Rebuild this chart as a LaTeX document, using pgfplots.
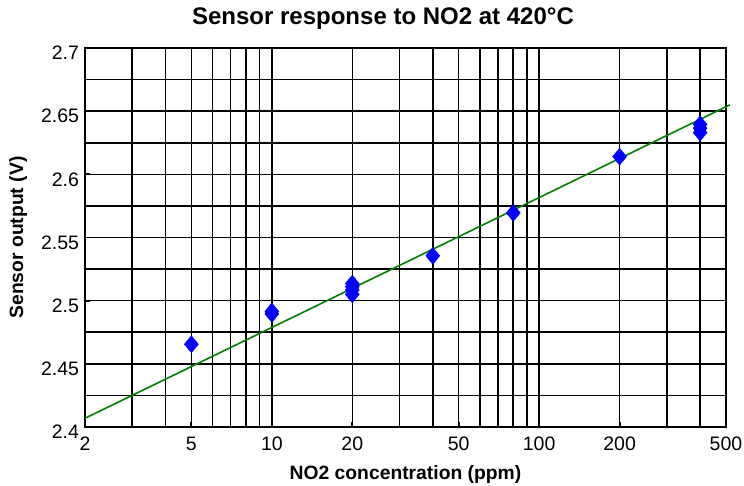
\documentclass[border=0pt]{standalone}
\usepackage{pgfplots}
\pgfplotsset{compat=1.18}
\usepackage{fontspec}
\setmainfont{Liberation Sans}
\begin{document}
\begin{tikzpicture}[x=1pt,y=1pt]
\useasboundingbox (0,0) rectangle (744,486);
\node[anchor=base,font=\fontsize{24}{28}\selectfont\bfseries] at (383,461) {Sensor response to NO2 at 420°C};
\begin{axis}[
  at={(85pt,59pt)}, anchor=south west,
  scale only axis, width=641pt, height=379pt,
  xmode=log, log basis x=10,
  xmin=2, xmax=500, ymin=2.4, ymax=2.7,
  xtick={2,5,10,20,50,100,200,500},
  xticklabels={2,5,10,20,50,100,200,500},
  minor xtick={3,4,6,7,8,9,30,40,60,70,80,90,300,400},
  ytick={2.4,2.45,2.5,2.55,2.6,2.65,2.7},
  yticklabels={2.4,2.45,2.5,2.55,2.6,2.65,2.7},
  minor ytick={2.425,2.475,2.525,2.575,2.625,2.675},
  grid=both,
  grid style={black, line width=1.6pt},
  major grid style={black, line width=1.6pt},
  minor grid style={black, line width=1.6pt},
  axis line style={black, line width=1.8pt},
  tick style={black, line width=1.8pt},
  major tick length=5pt, minor tick length=0pt,
  tick align=inside,
  xtick pos=bottom, ytick pos=left,
  ticklabel style={font=\fontsize{19.5}{23}\selectfont},
  xticklabel style={yshift=-6.5pt},
  yticklabel style={xshift=-2.5pt, yshift=-5pt},
  xlabel={NO2 concentration (ppm)},
  ylabel={Sensor output (V)},
  label style={font=\fontsize{19.3}{23}\selectfont\bfseries},
  xlabel style={at={(axis description cs:0.5,-0.1398)}, anchor=base},
  ylabel style={at={(axis description cs:-0.1045,0.5)}, anchor=center},
  clip=false,
]
\addplot[color={rgb,255:red,0;green,128;blue,0}, line width=1.6pt, no marks] coordinates {(2,2.4069) (517,2.6550)};
\addplot[only marks, mark=diamond*, mark size=8.5pt, mark options={xscale=1.1}, color={rgb,255:red,0;green,0;blue,255}] coordinates {
(5,2.4655)
(10,2.4895) (10,2.4915)
(20,2.5050) (20,2.5085) (20,2.5110) (20,2.5135)
(40,2.5355)
(80,2.5695)
(200,2.6140)
(400,2.6330) (400,2.6365) (400,2.6395)
};
\end{axis}
\end{tikzpicture}
\end{document}
